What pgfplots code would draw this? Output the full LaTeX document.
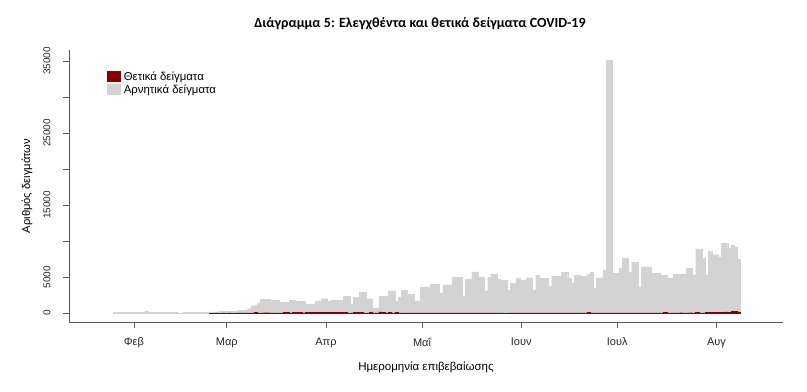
\documentclass[border=0pt]{standalone}
\usepackage{pgfplots}
\usepackage{pgfplotstable}
\pgfplotsset{compat=1.18}
\usepackage{fontspec}
\setmainfont{Liberation Sans}
\newfontfamily\titlefont{Carlito}
\definecolor{posred}{RGB}{139,0,0}
\definecolor{neggray}{RGB}{211,211,211}
\definecolor{axgray}{RGB}{85,85,85}

% negative samples per day (day 0 = 1 Feb 2020)
\pgfplotstableread{
d neg
-6 60
-5 80
-4 70
-3 90
-2 60
-1 80
0 100
1 70
2 90
3 80
4 300
5 90
6 70
7 80
8 60
9 80
10 70
11 90
12 60
13 80
14 0
15 0
16 70
17 80
18 60
19 90
20 70
21 80
22 100
23 120
24 150
25 150
26 180
27 200
28 220
29 250
30 250
31 300
32 300
33 350
34 350
35 450
36 600
37 1000
38 1100
39 1400
40 1900
41 1900
42 1900
43 1800
44 1800
45 1800
46 1500
47 1500
48 1500
49 1800
50 1800
51 1600
52 1600
53 1600
54 1250
55 1250
56 1250
57 1600
58 1600
59 2000
60 2000
61 1600
62 1800
63 1800
64 1800
65 1800
66 2350
67 2350
68 1250
69 2200
70 2200
71 2900
72 2900
73 2000
74 2000
75 650
76 650
77 2350
78 2350
79 2350
80 3100
81 3100
82 1600
83 2200
84 3200
85 3200
86 2600
87 2600
88 1600
89 1600
90 3600
91 3600
92 3600
93 4000
94 4000
95 4000
96 2700
97 3900
98 3900
99 3900
100 5000
101 5000
102 5000
103 2400
104 4700
105 4700
106 5700
107 5700
108 5000
109 5000
110 3100
111 5000
112 5400
113 5400
114 4700
115 4600
116 4600
117 3200
118 4100
119 4100
120 4800
121 4600
122 4600
123 4900
124 4900
125 3200
126 5300
127 4800
128 4800
129 4800
130 3700
131 5100
132 5100
133 5100
134 5650
135 5650
136 4800
137 4100
138 5200
139 5200
140 5100
141 5100
142 5400
143 5650
144 3400
145 4900
146 4900
147 6000
148 35100
149 35100
150 5500
151 5500
152 6200
153 7600
154 7600
155 5700
156 7100
157 7100
158 3600
159 6400
160 6400
161 6400
162 5500
163 5500
164 5500
165 5300
166 5300
167 4900
168 4800
169 5400
170 5400
171 5400
172 5400
173 6200
174 6200
175 5300
176 8900
177 8900
178 7600
179 5300
180 8600
181 8100
182 8100
183 7800
184 9700
185 9700
186 9000
187 9400
188 9200
189 7500
}\negtable

% positive samples per day
\pgfplotstableread{
d pos
24 0
25 1
26 2
27 1
28 3
29 0
30 2
31 0
32 2
33 22
34 14
35 14
36 28
37 5
38 46
39 2
40 27
41 38
42 38
43 33
44 21
45 31
46 31
47 77
48 46
49 29
50 71
51 94
52 61
53 35
54 81
55 78
56 71
57 102
58 90
59 60
60 75
61 77
62 62
63 45
64 74
65 56
66 84
67 34
68 32
69 44
70 90
71 45
72 36
73 25
74 58
75 16
76 20
77 156
78 120
79 21
80 72
81 12
82 55
83 15
84 13
85 27
86 23
87 11
88 5
89 14
90 10
91 22
92 15
93 10
94 8
95 12
96 6
97 10
98 8
99 16
100 11
101 6
102 5
103 3
104 10
105 12
106 7
107 4
108 2
109 21
110 3
111 6
112 10
113 15
114 8
115 4
116 1
117 5
118 17
119 9
120 2
121 2
122 3
123 8
124 5
125 12
126 15
127 14
128 6
129 20
130 4
131 8
132 24
133 14
134 9
135 18
136 12
137 5
138 9
139 8
140 6
141 20
142 97
143 15
144 12
145 10
146 7
147 21
148 14
149 7
150 16
151 9
152 18
153 12
154 12
155 24
156 21
157 10
158 12
159 19
160 8
161 23
162 12
163 28
164 22
165 9
166 45
167 28
168 17
169 28
170 31
171 38
172 28
173 34
174 41
175 25
176 44
177 36
178 28
179 57
180 78
181 110
182 75
183 121
184 78
185 154
186 93
187 190
188 203
189 150
}\postable

\begin{document}
\begin{tikzpicture}
\begin{axis}[
  width=714pt, height=272pt, scale only axis,
  xmin=-20.3, xmax=202.8, ymin=-1250, ymax=36530,
  axis x line*=bottom, axis y line*=left,
  axis line style={axgray, line width=0.8pt},
  tick align=outside, major tick length=6pt,
  tick style={axgray, line width=0.8pt},
  scaled y ticks=false,
  xtick={0,29,60,90,121,151,182},
  xticklabels={Φεβ,Μαρ,Απρ,Μαΐ,Ιουν,Ιουλ,Αυγ},
  ytick={0,5000,10000,15000,20000,25000,30000,35000},
  yticklabels={0,5000,,15000,,25000,,35000},
  yticklabel style={rotate=90, anchor=south, font=\fontsize{10}{12}\selectfont},
  xticklabel style={font=\fontsize{11}{13}\selectfont},
  yticklabel shift=9pt,
  xticklabel shift=6pt,
  ticklabel style={text=black!85},
  /pgf/number format/assume math mode=true,
  every axis title/.style={at={(axis description cs:0.4916,1.0956)}, anchor=center},
  title={\titlefont\bfseries\fontsize{14}{16}\selectfont Διάγραμμα 5: Ελεγχθέντα και θετικά δείγματα COVID-19},
  every axis x label/.style={at={(axis description cs:0.5,-0.168)}, anchor=center},
  xlabel={\fontsize{11.5}{13}\selectfont Ημερομηνία επιβεβαίωσης},
  every axis y label/.style={at={(axis description cs:-0.0588,0.5)}, rotate=90, anchor=center},
  ylabel={\fontsize{11.2}{13}\selectfont Αριθμός δειγμάτων},
  legend image code/.code={\fill[#1] (0pt,-5.5pt) rectangle (14pt,6pt);},
  legend style={at={(0.053,0.925)}, anchor=north west, draw=none, fill=none,
    font=\fontsize{11.4}{13}\selectfont, row sep=0pt, inner sep=0pt,
    nodes={inner sep=1.3pt}},
  legend cell align=left,
]
\addlegendimage{fill=posred, draw=none}
\addlegendentry{\hspace{1.5pt}Θετικά δείγματα}
\addlegendimage{fill=neggray, draw=none}
\addlegendentry{\hspace{1.5pt}Αρνητικά δείγματα}
\addplot[ybar, bar width=1, bar shift=0pt, fill=neggray, draw=neggray, line width=0.2pt, forget plot] table[x=d, y=neg] {\negtable};
\addplot[ybar, bar width=1, bar shift=0pt, fill=posred, draw=posred, line width=0.4pt, forget plot] table[x=d, y=pos] {\postable};
\coordinate (bl) at (rel axis cs:-0.0966,-0.2537);
\coordinate (tr) at (rel axis cs:1.0336,1.1838);
\end{axis}
\pgfresetboundingbox
\path[use as bounding box] (bl) rectangle (tr);
\end{tikzpicture}
\end{document}
